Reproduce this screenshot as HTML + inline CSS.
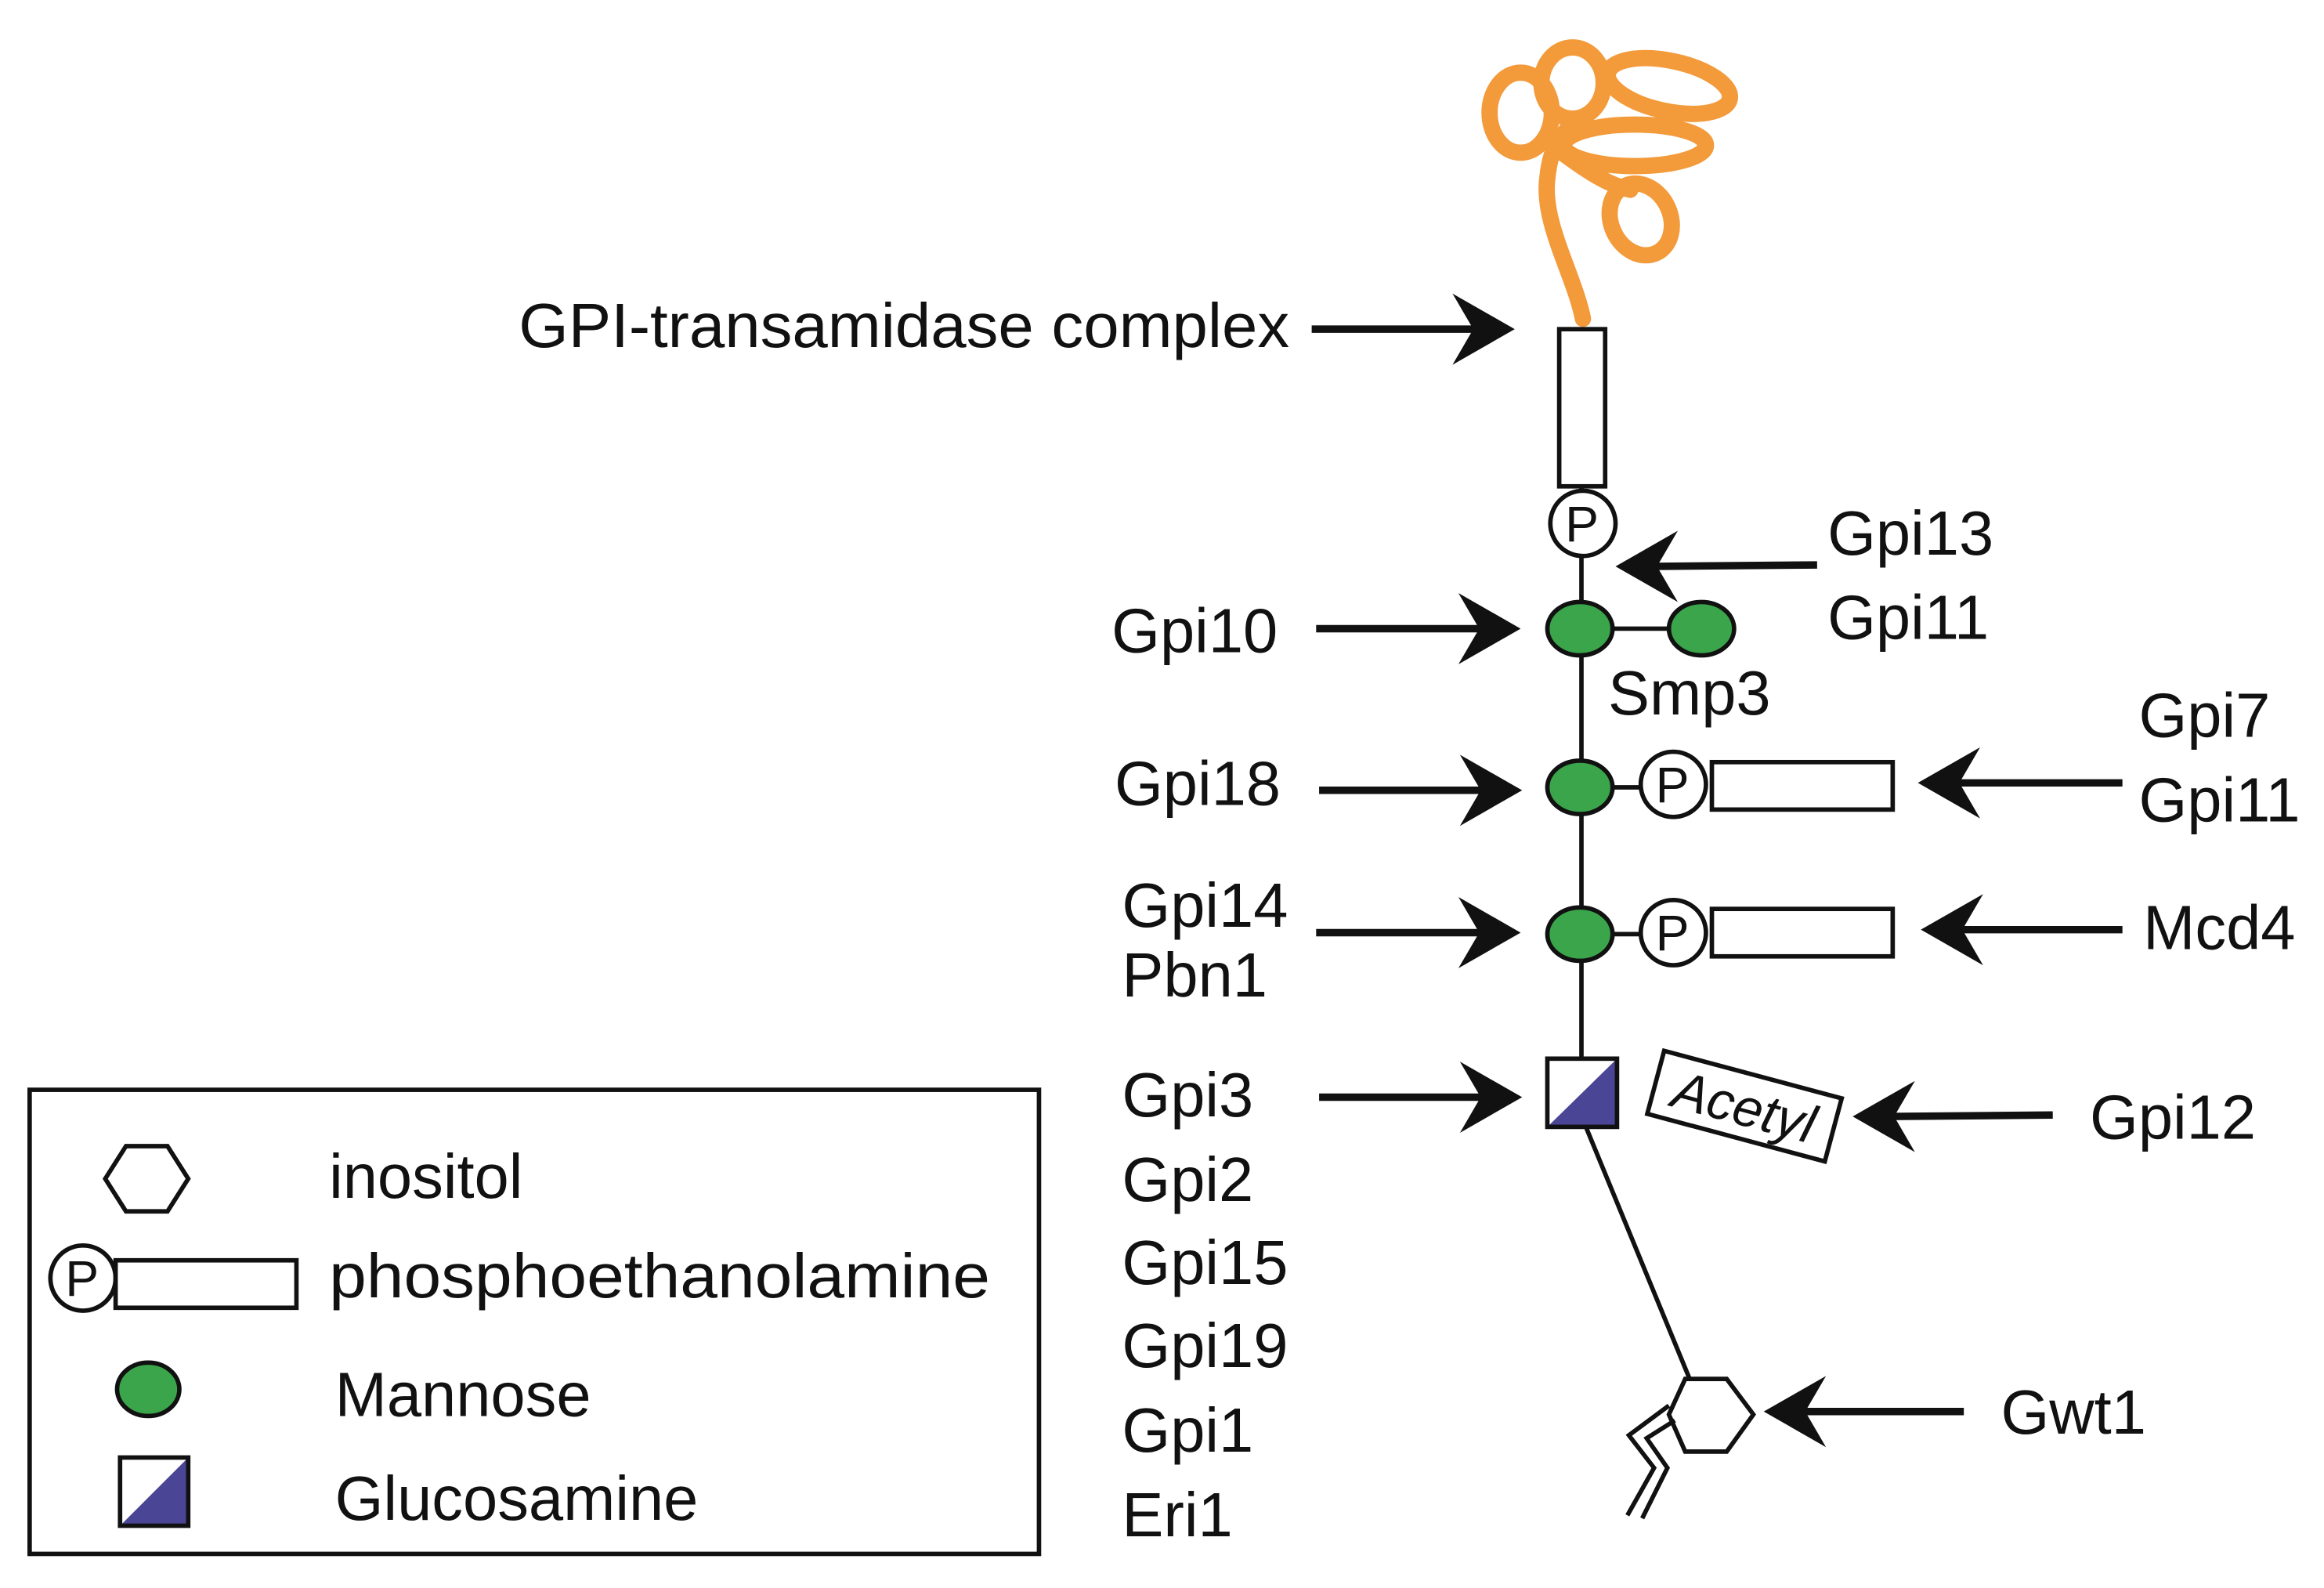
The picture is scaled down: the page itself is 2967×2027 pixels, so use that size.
<!DOCTYPE html>
<html><head><meta charset="utf-8"><style>
html,body{margin:0;padding:0;background:#fff}
svg{display:block}
text{font-family:"Liberation Sans",sans-serif;font-size:42px;fill:#111}
</style></head><body>
<svg width="2967" height="2027" viewBox="0 0 1568 1071" preserveAspectRatio="none" xmlns="http://www.w3.org/2000/svg">
<defs>
<path id="ah" d="M0,0 L-42,-24 L-28,0 L-42,24 Z" fill="#111"/>
</defs>
<g fill="none" stroke="#f39a3a" stroke-width="11" stroke-linecap="round">
<path d="M1068,215 C1062,185 1040,150 1044,120 C1046,100 1052,92 1060,85"/>
<ellipse cx="1026" cy="76" rx="21" ry="27"/>
<ellipse cx="1061" cy="56" rx="21" ry="24"/>
<ellipse cx="1126" cy="58" rx="42" ry="17" transform="rotate(12 1126 58)"/>
<ellipse cx="1103" cy="98" rx="48" ry="14"/>
<ellipse cx="1107" cy="148" rx="20" ry="25" transform="rotate(-25 1107 148)"/>
<path d="M1050,100 C1070,115 1085,125 1100,128"/>
</g>
<g stroke="#111" stroke-width="3" fill="none">
<line x1="1067" y1="328" x2="1067" y2="714"/>
<line x1="1066" y1="424" x2="1148" y2="424"/>
<line x1="1066" y1="531" x2="1110" y2="531"/>
<line x1="1066" y1="630" x2="1110" y2="630"/>
<line x1="1070" y1="760" x2="1140" y2="930"/>
<rect x="1052" y="222" width="31" height="106" fill="#fff"/>
<circle cx="1068" cy="353" r="22" fill="#fff"/>
<ellipse cx="1066" cy="424" rx="22" ry="18" fill="#3aa54a"/>
<ellipse cx="1148" cy="424" rx="22" ry="18" fill="#3aa54a"/>
<ellipse cx="1066" cy="531" rx="22" ry="18" fill="#3aa54a"/>
<circle cx="1129" cy="529" r="22" fill="#fff"/>
<rect x="1155" y="514" width="122" height="32" fill="#fff"/>
<ellipse cx="1066" cy="630" rx="22" ry="18" fill="#3aa54a"/>
<circle cx="1129" cy="629" r="22" fill="#fff"/>
<rect x="1155" y="613" width="122" height="32" fill="#fff"/>
<path d="M1044,760 L1091,714 L1091,760 Z" fill="#4b4596" stroke="none"/>
<rect x="1044" y="714" width="47" height="46"/>
<g transform="translate(1177,746) rotate(15)"><rect x="-62" y="-22" width="124" height="44" fill="#fff"/></g>
<polygon points="1137,930 1165,930 1183,954 1165,979 1137,979 1126,954" fill="#fff"/>
<polyline points="1126,948 1099,968 1116,990 1098,1022"/>
<polyline points="1130,958 1111,970 1125,990 1108,1024"/>
<rect x="20" y="735" width="681" height="313" stroke-width="3"/>
<polygon points="85,773 113,773 127,795 113,817 85,817 71,795" fill="#fff"/>
<circle cx="56" cy="862" r="22" fill="#fff"/>
<rect x="78" y="850" width="122" height="32" fill="#fff"/>
<ellipse cx="100" cy="937" rx="21" ry="18" fill="#3aa54a"/>
<path d="M81,1029 L127,983 L127,1029 Z" fill="#4b4596" stroke="none"/>
<rect x="81" y="983" width="46" height="46"/>
</g>
<text x="1056" y="365" style="font-size:34px">P</text>
<text x="1117" y="541" style="font-size:34px">P</text>
<text x="1117" y="641" style="font-size:34px">P</text>
<text x="44" y="874" style="font-size:34px">P</text>
<text x="1177" y="746" transform="rotate(15 1177 746)" text-anchor="middle" dy="13" style="font-size:36px;font-style:italic">Acetyl</text>
<g stroke="#111" stroke-width="5">
<line x1="885" y1="222" x2="995" y2="222"/>
<line x1="1226" y1="381" x2="1115" y2="382"/>
<line x1="888" y1="424" x2="1000" y2="424"/>
<line x1="890" y1="533" x2="1000" y2="533"/>
<line x1="1432" y1="528" x2="1320" y2="528"/>
<line x1="888" y1="629" x2="1000" y2="629"/>
<line x1="1432" y1="627" x2="1322" y2="627"/>
<line x1="890" y1="740" x2="1000" y2="740"/>
<line x1="1385" y1="752" x2="1275" y2="753"/>
<line x1="1325" y1="952" x2="1215" y2="952"/>
</g>
<use href="#ah" transform="translate(1022,222)"/>
<use href="#ah" transform="translate(1090,382) rotate(180)"/>
<use href="#ah" transform="translate(1026,424)"/>
<use href="#ah" transform="translate(1027,533)"/>
<use href="#ah" transform="translate(1294,528) rotate(180)"/>
<use href="#ah" transform="translate(1026,629)"/>
<use href="#ah" transform="translate(1296,627) rotate(180)"/>
<use href="#ah" transform="translate(1027,740)"/>
<use href="#ah" transform="translate(1250,753) rotate(180)"/>
<use href="#ah" transform="translate(1190,952) rotate(180)"/>
<text x="350" y="234" textLength="520" lengthAdjust="spacingAndGlyphs">GPI-transamidase complex</text>
<text x="1233" y="374">Gpi13</text>
<text x="1233" y="431">Gpi11</text>
<text x="750" y="440">Gpi10</text>
<text x="1085" y="482">Smp3</text>
<text x="752" y="543">Gpi18</text>
<text x="1443" y="497">Gpi7</text>
<text x="1443" y="554">Gpi11</text>
<text x="757" y="625">Gpi14</text>
<text x="757" y="672">Pbn1</text>
<text x="1446" y="640">Mcd4</text>
<text x="757" y="753">Gpi3</text>
<text x="757" y="810">Gpi2</text>
<text x="757" y="866">Gpi15</text>
<text x="757" y="922">Gpi19</text>
<text x="757" y="979">Gpi1</text>
<text x="757" y="1036">Eri1</text>
<text x="1410" y="768">Gpi12</text>
<text x="1350" y="967">Gwt1</text>
<text x="222" y="808">inositol</text>
<text x="222" y="875" textLength="446" lengthAdjust="spacingAndGlyphs">phosphoethanolamine</text>
<text x="226" y="955">Mannose</text>
<text x="226" y="1025">Glucosamine</text>
</svg>
</body></html>
